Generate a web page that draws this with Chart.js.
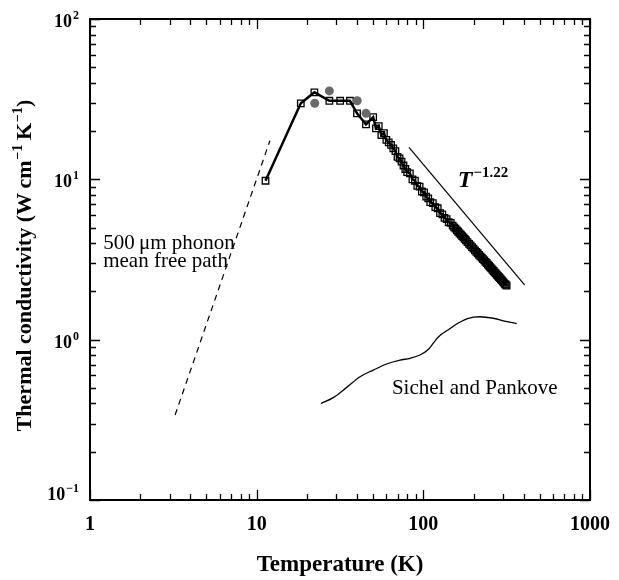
<!DOCTYPE html>
<html>
<head>
<meta charset="utf-8">
<script src="https://cdn.jsdelivr.net/npm/chart.js@4.4.1/dist/chart.umd.min.js"></script>
<style>
  html, body { margin: 0; padding: 0; background: #fff; }
  #wrap { width: 619px; height: 580px; }
</style>
</head>
<body>
<div id="wrap"><canvas id="kappa"></canvas></div>
<script>
// measured conductivity, open squares joined by a line
const measT = [11.3, 18.4, 22.2, 27.3, 31.7, 36.3, 40, 45.3, 50,
  52, 54, 56, 58, 60, 62, 64, 66, 68, 70,
  72, 74, 76, 78, 80,
  83, 86, 89, 92, 95, 98, 101, 104, 107, 110,
  114, 118, 122, 126, 130, 134, 138, 142, 146, 150,
  153, 156, 159, 162, 165, 168, 171, 174, 177, 180,
  184, 188, 192, 196, 200, 204, 208, 212, 216, 220,
  224, 228, 232, 236, 240, 244, 248, 252, 256, 260,
  264, 268, 272, 276, 280, 284, 288, 292, 296, 300,
  304, 308, 312, 316];
const measK = [9.8, 29.8, 34.9, 30.9, 30.9, 30.9, 25.8, 22.0, 24.4,
  20.8, 21.5, 18.9, 19.4, 17.6, 17.0, 16.4, 15.6, 15.0, 13.8,
  13.5, 12.9, 12.2, 11.6, 11.1,
  10.9, 10.0, 9.8, 9.1, 9.0, 8.4, 8.3, 7.8, 7.6, 7.2,
  7.1, 6.7, 6.6, 6.15, 6.05, 5.75, 5.65, 5.4, 5.35, 5.15,
  5.02, 4.93, 4.80, 4.71, 4.60, 4.52, 4.42, 4.34, 4.25, 4.17,
  4.06, 3.96, 3.87, 3.78, 3.70, 3.61, 3.53, 3.46, 3.38, 3.31,
  3.25, 3.18, 3.12, 3.06, 3.00, 2.94, 2.89, 2.83, 2.78, 2.73,
  2.68, 2.63, 2.59, 2.54, 2.50, 2.46, 2.42, 2.38, 2.34, 2.30,
  2.27, 2.23, 2.20, 2.17];

// second sample, grey dots
const dotT = [22.3, 27.3, 40.1, 45.3];
const dotK = [29.8, 35.6, 30.9, 25.8];

// Sichel and Pankove
const spT = [24.3, 28.8, 34.7, 41.7, 50.1, 60.2, 72.4, 83.2, 95.4, 107, 123, 144, 162, 186, 219, 263, 302, 363];
const spK = [0.40, 0.435, 0.504, 0.587, 0.646, 0.705, 0.746, 0.765, 0.802, 0.869, 1.04, 1.17, 1.27, 1.36, 1.39, 1.36, 1.31, 1.26];

// boundary limit for a 500 um mean free path
const mfpT = [3.24, 12.0];
const mfpK = [0.339, 17.4];

// T^-1.22 guide line
const powT = [82, 405];
const powK = [15.8, 2.2];

const xTickValues = [1, 10, 100, 1000];
const xTickLabels = ['1', '10', '100', '1000'];
const yTickValues = [0.1, 1, 10, 100];
const yTickExponents = ['\u22121', '0', '1', '2'];

const SERIF = '"Liberation Serif", "DejaVu Serif", serif';

const pts = (xs, ys) => xs.map((x, i) => ({ x: x, y: ys[i] }));

// frame, inward ticks and all the lettering
const decorations = {
  id: 'decorations',
  afterDraw(chart) {
    const { ctx, chartArea: a, scales: { x, y } } = chart;
    ctx.save();
    ctx.strokeStyle = '#000';
    ctx.fillStyle = '#000';

    ctx.lineWidth = 1.3;
    ctx.beginPath();
    for (let d = 1; d <= 1000; d *= 10) {
      for (let m = 1; m <= (d === 1000 ? 1 : 9); m++) {
        const px = Math.round(x.getPixelForValue(m * d)) + 0.5;
        const len = m === 1 ? 10 : 6;
        ctx.moveTo(px, a.bottom); ctx.lineTo(px, a.bottom - len);
        ctx.moveTo(px, a.top); ctx.lineTo(px, a.top + len);
      }
    }
    for (let e = -1; e <= 2; e++) {
      const d = Math.pow(10, e);
      for (let m = 1; m <= (e === 2 ? 1 : 9); m++) {
        const py = Math.round(y.getPixelForValue(m * d)) + 0.5;
        const len = m === 1 ? 10 : 6;
        ctx.moveTo(a.left, py); ctx.lineTo(a.left + len, py);
        ctx.moveTo(a.right, py); ctx.lineTo(a.right - len, py);
      }
    }
    ctx.stroke();

    ctx.lineWidth = 2;
    ctx.strokeRect(a.left, a.top, a.right - a.left, a.bottom - a.top);

    // x tick labels
    ctx.font = 'bold 20px ' + SERIF;
    ctx.textAlign = 'center';
    ctx.textBaseline = 'middle';
    xTickValues.forEach((v, i) => {
      ctx.fillText(xTickLabels[i], x.getPixelForValue(v), a.bottom + 25);
    });

    // y tick labels as 10 with a raised exponent
    ctx.textAlign = 'left';
    ctx.textBaseline = 'alphabetic';
    yTickValues.forEach((v, i) => {
      const py = y.getPixelForValue(v);
      const base = Math.min(py + 8, a.bottom);
      ctx.font = 'bold 12px ' + SERIF;
      const ew = ctx.measureText(yTickExponents[i]).width;
      ctx.font = 'bold 18px ' + SERIF;
      const bw = ctx.measureText('10').width;
      const right = a.left - 11;
      ctx.fillText('10', right - ew - 1 - bw, base);
      ctx.font = 'bold 12px ' + SERIF;
      ctx.fillText(yTickExponents[i], right - ew, base - 8);
    });

    // axis titles
    ctx.font = 'bold 23px ' + SERIF;
    ctx.textAlign = 'center';
    ctx.textBaseline = 'alphabetic';
    ctx.fillText('Temperature (K)', (a.left + a.right) / 2, a.bottom + 71);

    const parts = [
      ['Thermal conductivity (W\u2009cm', false],
      ['\u22121', true],
      ['\u2009K', false],
      ['\u22121', true],
      [')', false]
    ];
    const mainFont = 'bold 22px ' + SERIF;
    const supFont = 'bold 14px ' + SERIF;
    let total = 0;
    parts.forEach(p => {
      ctx.font = p[1] ? supFont : mainFont;
      total += ctx.measureText(p[0]).width + (p[1] ? 1 : 0);
    });
    ctx.save();
    ctx.translate(31, (a.top + a.bottom) / 2 + 6);
    ctx.rotate(-Math.PI / 2);
    ctx.textAlign = 'left';
    let cx = -total / 2;
    parts.forEach(p => {
      ctx.font = p[1] ? supFont : mainFont;
      ctx.fillText(p[0], cx + (p[1] ? 1 : 0), p[1] ? -9 : 0);
      cx += ctx.measureText(p[0]).width + (p[1] ? 1 : 0);
    });
    ctx.restore();

    // annotations
    ctx.textAlign = 'left';
    ctx.font = '21px ' + SERIF;
    ctx.fillText('500\u2009\u03bcm phonon', x.getPixelForValue(1.2), y.getPixelForValue(3.67));
    ctx.fillText('mean free path', x.getPixelForValue(1.2), y.getPixelForValue(2.84));

    ctx.fillText('Sichel and Pankove', x.getPixelForValue(64.8), y.getPixelForValue(0.458));

    const tx = x.getPixelForValue(161);
    const ty = y.getPixelForValue(8.96);
    ctx.font = 'italic bold 24px ' + SERIF;
    ctx.fillText('T', tx, ty);
    const tw = ctx.measureText('T').width;
    ctx.font = 'bold 15px ' + SERIF;
    ctx.fillText('\u22121.22', tx + tw + 1, ty - 10);

    ctx.restore();
  }
};

new Chart(document.getElementById('kappa'), {
  type: 'line',
  data: {
    datasets: [
      {
        data: pts(dotT, dotK),
        showLine: false,
        pointStyle: 'circle',
        pointRadius: 4.5,
        pointBackgroundColor: '#6a6a6a',
        pointBorderWidth: 0
      },
      {
        data: pts(measT, measK),
        borderColor: '#000',
        borderWidth: 2.5,
        pointStyle: 'rect',
        pointRadius: 4.6,
        pointBorderWidth: 1.3,
        pointBorderColor: '#000',
        pointBackgroundColor: 'rgba(0,0,0,0)'
      },
      {
        data: pts(spT, spK),
        borderColor: '#000',
        borderWidth: 1.3,
        pointRadius: 0,
        cubicInterpolationMode: 'monotone'
      },
      {
        data: pts(mfpT, mfpK),
        borderColor: '#000',
        borderWidth: 1.2,
        borderDash: [6, 5],
        pointRadius: 0
      },
      {
        data: pts(powT, powK),
        borderColor: '#000',
        borderWidth: 1.2,
        pointRadius: 0
      }
    ]
  },
  options: {
    responsive: true,
    maintainAspectRatio: false,
    animation: false,
    layout: { padding: { left: 90, right: 29, top: 19, bottom: 80 } },
    plugins: { legend: { display: false }, tooltip: { enabled: false } },
    scales: {
      x: { type: 'logarithmic', min: 1, max: 1000, display: false },
      y: { type: 'logarithmic', min: 0.1, max: 100, display: false }
    }
  },
  plugins: [decorations]
});
</script>
</body>
</html>
